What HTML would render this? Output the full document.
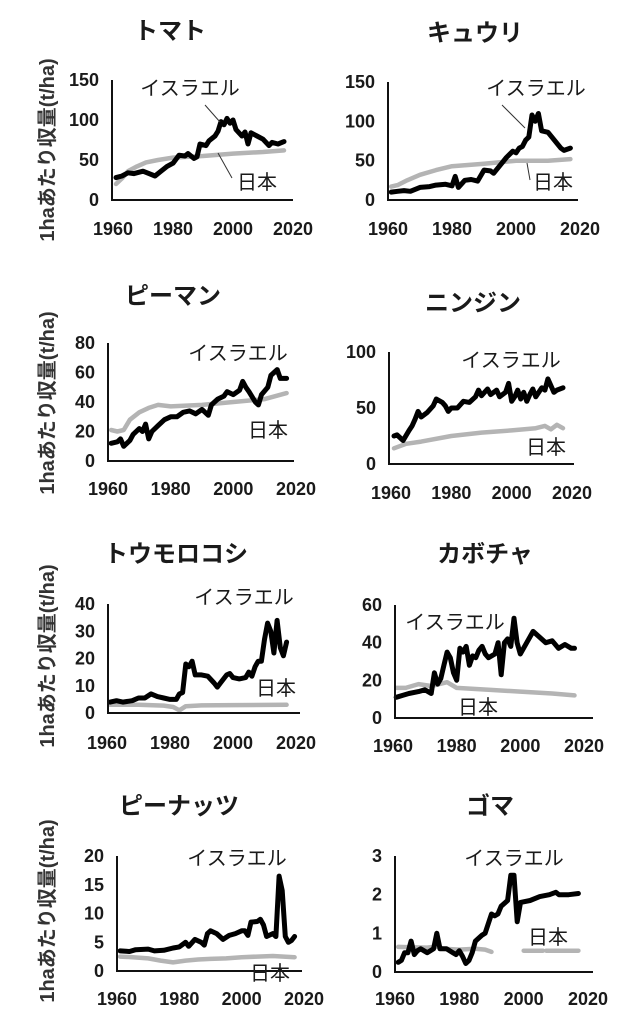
<!DOCTYPE html>
<html><head><meta charset="utf-8"><style>
html,body{margin:0;padding:0;background:#fff;}
svg{display:block;}
text{font-family:"Liberation Sans","Noto Sans CJK JP",sans-serif;fill:#1a1a1a;}
.n{font-size:18px;font-weight:bold;}
.t{font-size:24px;font-weight:bold;font-family:"Noto Sans CJK JP",sans-serif;}
.l{font-size:20px;font-family:"Noto Sans CJK JP",sans-serif;}
.y{font-size:20px;font-weight:bold;fill:#333;}
</style></head><body>
<svg id="s" width="641" height="1024" viewBox="0 0 641 1024" xmlns="http://www.w3.org/2000/svg"></svg>
<script>
const P=[
{t:"トマト",tx:170,ty:30,ax:112,top:80,bot:200,right:293,max:150,ticks:[0,50,100,150],x60:113,x20:293,xly:228,
 il:[190,88],jl:[257,182],lead:[[205,105,220,122],[218,153,232,178]],
 I:[[61,28],[63,30],[65,34],[67,33],[70,36],[72,33],[74,30],[76,36],[78,42],[80,46],[82,56],[84,55],[85,58],[87,52],[88,54],[89,70],[91,68],[92,74],[94,80],[95,86],[96,98],[97,94],[98,102],[99,96],[100,100],[101,88],[102,84],[103,80],[104,85],[105,70],[106,84],[108,80],[110,76],[112,68],[113,72],[115,70],[117,73]],
 J:[[61,20],[63,27],[65,36],[68,42],[71,47],[75,50],[80,53],[90,55],[100,58],[110,60],[117,62]]},
{t:"キュウリ",tx:475,ty:32,ax:388,top:82,bot:200,right:578,max:150,ticks:[0,50,100,150],x60:388,x20:580,xly:228,
 il:[536,88],jl:[553,182],lead:[[502,105,525,128],[527,163,530,180]],
 I:[[61,10],[63,11],[65,12],[67,11],[70,16],[73,17],[75,19],[78,20],[80,18],[81,30],[82,16],[84,25],[86,26],[88,24],[90,38],[92,37],[93,34],[95,44],[97,54],[99,62],[100,60],[101,66],[102,68],[103,76],[104,80],[105,108],[106,100],[107,110],[108,88],[110,86],[112,76],[114,66],[115,63],[117,66]],
 J:[[61,17],[63,19],[66,25],[70,32],[75,38],[80,43],[90,46],[100,50],[110,50],[117,52]]},
{t:"ピーマン",tx:173,ty:295,ax:108,top:343,bot:461,right:294,max:80,ticks:[0,20,40,60,80],x60:108,x20:296,xly:488,
 il:[238,353],jl:[268,430],lead:null,
 I:[[61,12],[63,13],[64,15],[65,10],[67,14],[68,18],[70,22],[71,20],[72,25],[73,15],[74,20],[76,24],[78,28],[80,30],[82,30],[84,33],[86,34],[88,32],[90,35],[92,31],[93,38],[95,42],[97,44],[98,47],[100,45],[102,48],[103,54],[104,50],[105,47],[107,40],[108,38],[109,45],[111,50],[112,58],[114,62],[115,56],[117,56]],
 J:[[61,21],[63,20],[65,21],[67,28],[70,33],[73,36],[76,38],[80,37],[90,38],[100,40],[110,42],[117,46]]},
{t:"ニンジン",tx:473,ty:302,ax:389,top:352,bot:464,right:574,max:100,ticks:[0,50,100],x60:391,x20:572,xly:492,
 il:[511,360],jl:[546,447],lead:null,
 I:[[61,25],[62,26],[64,21],[66,30],[67,34],[68,40],[69,47],[70,42],[72,46],[74,52],[75,58],[77,55],[78,52],[79,47],[80,50],[82,50],[84,56],[86,55],[88,60],[89,66],[90,61],[92,67],[93,62],[95,66],[96,60],[98,64],[99,72],[100,56],[101,60],[102,66],[103,58],[104,64],[105,56],[106,62],[107,67],[108,60],[110,68],[111,66],[112,76],[113,70],[114,64],[115,66],[117,68]],
 J:[[61,14],[65,18],[70,20],[80,25],[90,28],[100,30],[108,32],[111,34],[113,31],[115,35],[117,32]]},
{t:"トウモロコシ",tx:176,ty:553,ax:108,top:604,bot:713,right:300,max:40,ticks:[0,10,20,30,40],x60:107,x20:296,xly:742,
 il:[244,597],jl:[276,688],lead:null,
 I:[[61,4],[63,4.5],[65,4],[68,4.5],[70,5.5],[72,5.5],[74,7],[76,6],[78,5.5],[80,5],[82,5],[83,7],[84,7.5],[85,18],[86,17],[87,19],[88,14],[90,14],[92,13.5],[94,11],[95,9.5],[96,11],[98,14],[99,14.5],[100,13],[102,12.5],[104,13],[105,15],[106,13.5],[107,17],[108,19],[109,19],[110,27],[111,33],[112,30],[113,22],[114,34],[115,24],[116,21],[117,26]],
 J:[[61,3],[70,3],[78,2.7],[81,2.2],[83,1],[85,2.5],[90,2.8],[100,2.9],[117,3]]},
{t:"カボチャ",tx:485,ty:553,ax:395,top:605,bot:718,right:593,max:60,ticks:[0,20,40,60],x60:393,x20:584,xly:745,
 il:[455,622],jl:[478,707],lead:null,
 I:[[61,11],[63,12],[65,13],[68,14],[70,15],[71,14],[72,13],[73,24],[74,18],[75,21],[76,28],[77,35],[78,32],[79,24],[80,20],[81,37],[82,35],[83,38],[84,28],[85,33],[86,32],[87,36],[88,38],[89,34],[90,32],[92,34],[93,40],[94,23],[95,40],[96,42],[97,38],[98,53],[99,40],[100,34],[102,40],[104,46],[106,43],[108,40],[110,41],[112,37],[114,39],[116,37],[117,37]],
 J:[[61,16],[64,16],[66,17],[68,18],[72,17],[77,19],[80,16],[90,15],[100,14],[110,13],[117,12]]},
{t:"ピーナッツ",tx:179,ty:805,ax:117,top:856,bot:971,right:302,max:20,ticks:[0,5,10,15,20],x60:117,x20:304,xly:998,
 il:[237,858],jl:[270,973],lead:null,
 I:[[61,3.5],[64,3.4],[66,3.7],[70,3.8],[72,3.5],[75,3.6],[78,4],[80,4.2],[82,5],[83,4.3],[85,5.5],[87,5],[88,4.5],[89,6.5],[90,7],[92,6.5],[94,5.5],[96,6.2],[98,6.5],[100,7],[101,7],[102,6.2],[103,8.5],[105,8.6],[106,9],[107,8],[108,6],[110,6.5],[111,6],[112,16.5],[113,14],[114,6],[115,5],[116,5.3],[117,6]],
 J:[[61,2.5],[65,2.4],[70,2.2],[74,1.8],[78,1.5],[82,1.8],[86,2],[90,2.1],[95,2.2],[100,2.4],[105,2.5],[110,2.6],[117,2.4]]},
{t:"ゴマ",tx:490,ty:805,ax:395,top:856,bot:972,right:593,max:3,ticks:[0,1,2,3],x60:395,x20:588,xly:998,
 il:[514,858],jl:[548,937],lead:null,
 I:[[61,0.25],[62,0.3],[63,0.5],[64,0.5],[65,0.8],[66,0.45],[67,0.55],[68,0.6],[70,0.5],[72,0.6],[73,1.0],[74,0.6],[76,0.6],[78,0.5],[79,0.45],[80,0.55],[81,0.4],[82,0.22],[83,0.3],[84,0.5],[85,0.8],[87,0.95],[88,1.0],[90,1.5],[91,1.45],[92,1.5],[93,1.7],[95,1.85],[96,2.5],[97,2.5],[98,1.3],[99,1.8],[102,1.85],[105,1.95],[108,2.0],[110,2.06],[111,2.0],[114,2.0],[117,2.03]],
 J:[[61,0.65],[65,0.64],[70,0.63],[73,0.66],[75,0.6],[80,0.58],[85,0.6],[88,0.58],[90,0.52]],J2:[[[100,0.55],[106,0.55]],[[107,0.55],[117,0.55]]]}
];
const ns="http://www.w3.org/2000/svg",S=document.getElementById("s");
function el(n,a,txt){const e=document.createElementNS(ns,n);for(const k in a)e.setAttribute(k,a[k]);if(txt!==undefined)e.textContent=txt;S.appendChild(e);return e;}
function pts(p,arr){const X=y=>p.x60+(y-61+1)*(p.x20-p.x60)/60,Y=v=>p.bot-v*(p.bot-p.top)/p.max;
 return arr.map(d=>X(d[0]).toFixed(1)+","+Y(d[1]).toFixed(1)).join(" ");}
P.forEach(p=>{
 el("text",{x:p.tx,y:p.ty+9,"text-anchor":"middle",class:"t"},p.t);
 p.ticks.forEach(v=>{const y=p.bot-v*(p.bot-p.top)/p.max;el("text",{x:p.ax-13,y:y+6,"text-anchor":"end",class:"n"},String(v));});
 [1960,1980,2000,2020].forEach((yr,i)=>{const x=p.x60+i*(p.x20-p.x60)/3;el("text",{x:x,y:p.xly+7,"text-anchor":"middle",class:"n"},String(yr));});
 el("polyline",{points:pts(p,p.J),fill:"none",stroke:"#b4b4b4","stroke-width":4.5,"stroke-linejoin":"round","stroke-linecap":"round"});
 if(p.J2)p.J2.forEach(s=>el("polyline",{points:pts(p,s),fill:"none",stroke:"#b4b4b4","stroke-width":4.5,"stroke-linecap":"round"}));
 el("polyline",{points:pts(p,p.I),fill:"none",stroke:"#000","stroke-width":5,"stroke-linejoin":"round","stroke-linecap":"round"});
 el("path",{d:`M${p.ax},${p.top} V${p.bot} H${p.right}`,fill:"none",stroke:"#111","stroke-width":2});
 el("text",{x:p.il[0],y:p.il[1]+7,"text-anchor":"middle",class:"l"},"イスラエル");
 el("text",{x:p.jl[0],y:p.jl[1]+7,"text-anchor":"middle",class:"l"},"日本");
 if(p.lead)p.lead.forEach(l=>el("line",{x1:l[0],y1:l[1],x2:l[2],y2:l[3],stroke:"#333","stroke-width":1}));
});
[150,403,656,911].forEach(cy=>{el("text",{x:0,y:0,transform:`translate(54,${cy}) rotate(-90)`,"text-anchor":"middle",class:"y"},"1haあたり収量(t/ha)");});
</script>
</body></html>
